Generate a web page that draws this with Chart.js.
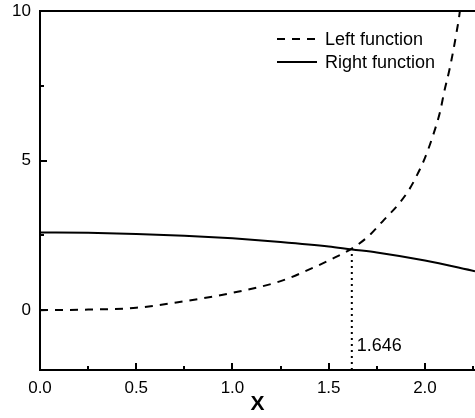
<!DOCTYPE html>
<html>
<head>
<meta charset="utf-8">
<script src="https://cdn.jsdelivr.net/npm/chart.js@4"></script>
<style>
  html, body { margin: 0; padding: 0; background: #fff; }
  #wrap { width: 475px; height: 418px; }
</style>
</head>
<body>
<div id="wrap"><canvas id="chart"></canvas></div>
<script>
// values
const leftX = [0, 0.25, 0.5, 0.75, 1.0, 1.25, 1.42, 1.5, 1.628, 1.711, 1.787, 1.861, 1.917, 1.96, 2.0, 2.05, 2.08, 2.1, 2.126, 2.147, 2.164, 2.178, 2.2];
const leftY = [0, 0.02, 0.08, 0.3, 0.58, 0.97, 1.42, 1.66, 2.09, 2.5, 3.02, 3.53, 4.02, 4.53, 5.09, 6.0, 6.67, 7.3, 8.0, 8.67, 9.28, 9.83, 11.0];
const rightX = [0, 0.25, 0.5, 0.75, 1.0, 1.25, 1.5, 1.62, 1.75, 2.0, 2.26];
const rightY = [2.6, 2.59, 2.55, 2.49, 2.4, 2.28, 2.13, 2.03, 1.93, 1.66, 1.3];
const guideX = [1.62, 1.62];
const guideY = [-2, 2.03];
const rootLabel = "1.646";
const seriesNames = ["Left function", "Right function"];
const xTickStep = 0.25;
const yTickStep = 2.5;

const FONT = 'Arial, "Liberation Sans", sans-serif';

function pts(xs, ys) {
    return xs.map((x, i) => ({ x: x, y: ys[i] }));
}

//Draws inward ticks, top frame, legend and the root label
const extras = {
    id: "extras",
    afterDraw(chart) {
        const ctx = chart.ctx;
        const area = chart.chartArea;
        const xs = chart.scales.x;
        const ys = chart.scales.y;
        ctx.save();
        ctx.strokeStyle = "#000";
        ctx.lineWidth = 2;
        ctx.setLineDash([]);

        // top frame line
        ctx.beginPath();
        ctx.moveTo(area.left - 1, area.top);
        ctx.lineTo(area.right, area.top);
        ctx.stroke();

        // x ticks pointing up
        for (let v = 0; v <= xs.max + 1e-9; v += xTickStep) {
            const px = Math.round(xs.getPixelForValue(v));
            const major = Math.abs(v * 2 - Math.round(v * 2)) < 1e-6;
            ctx.beginPath();
            ctx.moveTo(px, area.bottom);
            ctx.lineTo(px, area.bottom - (major ? 7 : 4));
            ctx.stroke();
        }
        // y ticks pointing right
        for (let v = 0; v <= ys.max + 1e-9; v += yTickStep) {
            const py = Math.round(ys.getPixelForValue(v));
            const major = Math.abs(v / 5 - Math.round(v / 5)) < 1e-6;
            ctx.beginPath();
            ctx.moveTo(area.left, py);
            ctx.lineTo(area.left + (major ? 7 : 4), py);
            ctx.stroke();
        }

        // legend
        const lx = area.right - 198;
        const rows = [area.top + 28, area.top + 51];
        ctx.font = "18px " + FONT;
        ctx.fillStyle = "#000";
        ctx.textBaseline = "middle";
        ctx.textAlign = "left";
        chart.data.datasets.slice(0, 2).forEach((ds, i) => {
            ctx.setLineDash(ds.borderDash || []);
            ctx.beginPath();
            ctx.moveTo(lx, rows[i]);
            ctx.lineTo(lx + 40, rows[i]);
            ctx.stroke();
            ctx.fillText(ds.label, lx + 48, rows[i] + 1);
        });

        // root label next to the dotted line
        ctx.setLineDash([]);
        ctx.font = "18px " + FONT;
        ctx.fillText(rootLabel, xs.getPixelForValue(guideX[0]) + 5, ys.getPixelForValue(-1.2));
        ctx.restore();
    }
};

new Chart(document.getElementById("chart"), {
    type: "line",
    data: {
        datasets: [
            {
                label: seriesNames[0],
                data: pts(leftX, leftY),
                borderColor: "#000",
                borderWidth: 2,
                borderDash: [8, 7],
                pointRadius: 0,
                cubicInterpolationMode: "monotone",
                fill: false,
            },
            {
                label: seriesNames[1],
                data: pts(rightX, rightY),
                borderColor: "#000",
                borderWidth: 2,
                pointRadius: 0,
                cubicInterpolationMode: "monotone",
                fill: false,
            },
            {
                label: "root",
                data: pts(guideX, guideY),
                borderColor: "#000",
                borderWidth: 2,
                borderDash: [2, 4],
                pointRadius: 0,
                fill: false,
            },
        ],
    },
    options: {
        responsive: true,
        maintainAspectRatio: false,
        animation: false,
        layout: { padding: { top: 11, left: 0, right: 0, bottom: 0 } },
        plugins: {
            legend: { display: false },
            tooltip: { enabled: false },
        },
        scales: {
            x: {
                type: "linear",
                min: 0,
                max: 2.26,
                grid: { display: false },
                border: { display: true, color: "#000", width: 2 },
                afterBuildTicks(scale) {
                    scale.ticks = scale.ticks.filter(t => Math.abs(t.value * 2 - Math.round(t.value * 2)) < 1e-6);
                },
                afterFit(scale) {
                    scale.height = 48;
                    scale.paddingLeft = 0;
                    scale.paddingRight = 0;
                },
                ticks: {
                    stepSize: 0.5,
                    includeBounds: false,
                    padding: 0,
                    color: "#000",
                    maxRotation: 0,
                    autoSkip: false,
                    font: { family: FONT, size: 17 },
                    callback: v => Number(v).toFixed(1),
                },
                title: {
                    display: true,
                    text: "X",
                    color: "#000",
                    padding: { top: 0, bottom: 1 },
                    font: { family: FONT, size: 21, weight: "bold" },
                },
            },
            y: {
                min: -2,
                max: 10,
                grid: { display: false },
                border: { display: true, color: "#000", width: 2 },
                afterBuildTicks(scale) {
                    scale.ticks = scale.ticks.filter(t => Math.abs(t.value / 5 - Math.round(t.value / 5)) < 1e-6);
                },
                afterFit(scale) {
                    scale.width = 40;
                    scale.paddingTop = 0;
                    scale.paddingBottom = 0;
                },
                ticks: {
                    stepSize: 5,
                    includeBounds: false,
                    padding: 1,
                    color: "#000",
                    font: { family: FONT, size: 17 },
                },
            },
        },
    },
    plugins: [extras],
});
</script>
</body>
</html>
